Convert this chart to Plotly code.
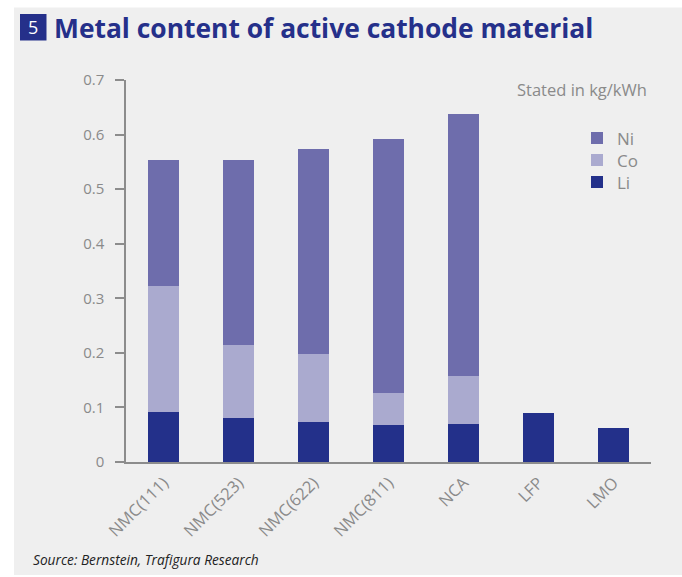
import plotly.graph_objects as go

# Cathode chemistries and metal content per kWh (kg/kWh)
categories = ["NMC(111)", "NMC(523)", "NMC(622)", "NMC(811)", "NCA", "LFP", "LMO"]
li_values = [0.092, 0.081, 0.074, 0.068, 0.069, 0.089, 0.063]
co_values = [0.230, 0.134, 0.124, 0.059, 0.089, 0.0, 0.0]
ni_values = [0.231, 0.338, 0.375, 0.464, 0.480, 0.0, 0.0]

y_ticks = [0, 0.1, 0.2, 0.3, 0.4, 0.5, 0.6, 0.7]

W, H = 682, 577
ML, MR, MT, MB = 126, 31, 80, 115
PW, PH = W - ML - MR, H - MT - MB

NAVY = "#25308a"
NI_COLOR = "#6e6dac"
CO_COLOR = "#aaaacf"
LI_COLOR = "#23308a"
GREY_TEXT = "#8a8a8a"
AXIS = "#8c8c8c"
BG = "#efefef"


def px_x(x):
    return (x - ML) / PW


def px_y(y):
    return (H - MB - y) / PH


def legend_box(center_y):
    # one single-entry legend per metal, stacked at a fixed pitch
    return dict(
        x=px_x(577), y=px_y(center_y), xanchor="left", yanchor="middle",
        bgcolor="rgba(0,0,0,0)", itemwidth=30,
        font=dict(family="Open Sans", size=17, color=GREY_TEXT),
    )


fig = go.Figure()
fig.add_trace(go.Bar(name="Li", x=categories, y=li_values, legend="legend3",
                     marker=dict(color=LI_COLOR, line=dict(width=0))))
fig.add_trace(go.Bar(name="Co", x=categories, y=co_values, legend="legend2",
                     marker=dict(color=CO_COLOR, line=dict(width=0))))
fig.add_trace(go.Bar(name="Ni", x=categories, y=ni_values, legend="legend",
                     marker=dict(color=NI_COLOR, line=dict(width=0))))

shapes = [
    # white frame strips around the grey panel
    dict(type="rect", xref="paper", yref="paper", x0=px_x(0), x1=px_x(W),
         y0=px_y(7.5), y1=px_y(0), fillcolor="white", line=dict(width=0), layer="below"),
    dict(type="rect", xref="paper", yref="paper", x0=px_x(0), x1=px_x(14),
         y0=px_y(H), y1=px_y(0), fillcolor="white", line=dict(width=0), layer="below"),
    dict(type="rect", xref="paper", yref="paper", x0=px_x(0), x1=px_x(W),
         y0=px_y(H), y1=px_y(575), fillcolor="white", line=dict(width=0), layer="below"),
    # chart number box
    dict(type="rect", xref="paper", yref="paper", x0=px_x(20), x1=px_x(46.5),
         y0=px_y(40.5), y1=px_y(14), fillcolor=NAVY, line=dict(width=0)),
]

annotations = [
    dict(text="5", xref="paper", yref="paper", x=px_x(33.3), y=px_y(27.5),
         xanchor="center", yanchor="middle", showarrow=False,
         font=dict(family="Open Sans", size=18, color="white")),
    dict(text="<b>Metal content of active cathode material</b>", xref="paper", yref="paper",
         x=px_x(52), y=px_y(28), xanchor="left", yanchor="middle", showarrow=False,
         font=dict(family="Open Sans", size=26.4, color=NAVY)),
    dict(text="Stated in kg/kWh", xref="paper", yref="paper", x=px_x(649), y=px_y(90),
         xanchor="right", yanchor="middle", showarrow=False,
         font=dict(family="Open Sans", size=16.5, color=GREY_TEXT)),
    dict(text="<i>Source: Bernstein, Trafigura Research</i>", xref="paper", yref="paper",
         x=px_x(31), y=px_y(559), xanchor="left", yanchor="middle", showarrow=False,
         font=dict(family="Open Sans", size=13.7, color="#222222")),
]

fig.update_layout(
    width=W, height=H,
    margin=dict(l=ML, r=MR, t=MT, b=MB, pad=0),
    paper_bgcolor=BG, plot_bgcolor=BG,
    barmode="stack", bargap=1 - 31 / 75,
    font=dict(family="Open Sans", color=GREY_TEXT),
    showlegend=True,
    legend=legend_box(138.5),
    legend2=legend_box(160.5),
    legend3=legend_box(182.5),
    shapes=shapes,
    annotations=annotations,
    xaxis=dict(
        range=[-0.5, 6.5], showline=True, linecolor=AXIS, linewidth=1.5,
        ticks="", tickangle=-45, showgrid=False, zeroline=False,
        ticklabelstandoff=3,
        tickfont=dict(family="Open Sans", size=16.5, color=GREY_TEXT),
    ),
    yaxis=dict(
        range=[0, 0.7], tickvals=y_ticks, ticktext=[f"{v:g}" for v in y_ticks],
        showline=True, linecolor=AXIS, linewidth=1.5,
        ticks="outside", ticklen=9, tickwidth=1.5, tickcolor=AXIS,
        ticklabelstandoff=8,
        showgrid=False, zeroline=False,
        tickfont=dict(family="Open Sans", size=15, color=GREY_TEXT),
    ),
)

fig.write_html("out.html", config={"displayModeBar": False})
